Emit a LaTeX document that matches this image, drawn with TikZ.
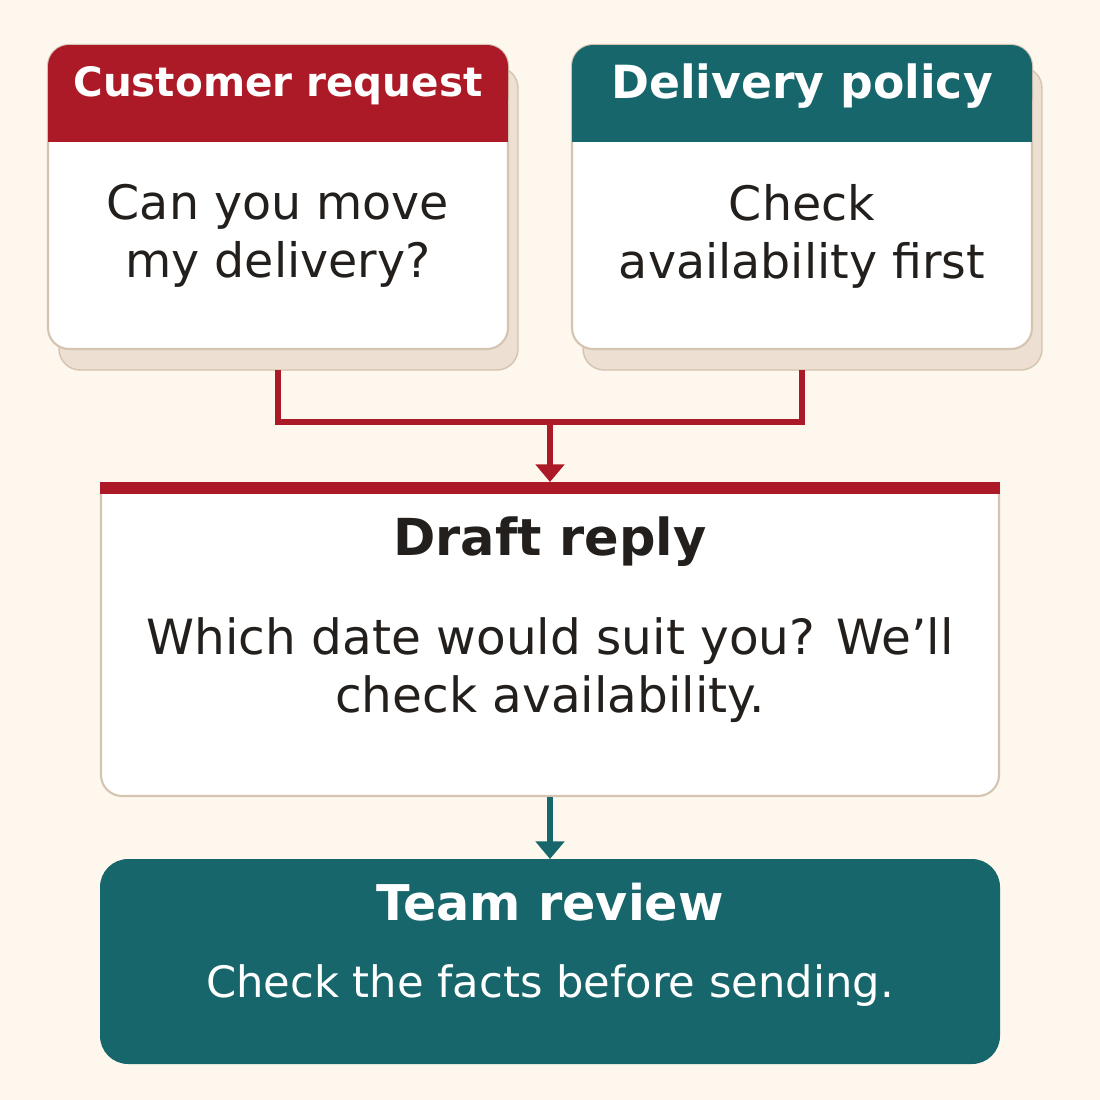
\documentclass[tikz,border=0pt]{standalone}
\usepackage{fontspec}
\setmainfont{DejaVu Sans}
\usetikzlibrary{positioning,arrows.meta}
\definecolor{bgcol}{HTML}{FEF7EE}
\definecolor{redcol}{HTML}{AD1A27}
\definecolor{tealcol}{HTML}{17666B}
\definecolor{shadowcol}{HTML}{EDE0D2}
\definecolor{edgecol}{HTML}{D4C4B0}
\definecolor{inkcol}{HTML}{231F1C}
\tikzset{
  card/.style={draw=edgecol, line width=0.6pt, fill=white, rounded corners=6pt},
  shadow/.style={fill=shadowcol, draw=edgecol, line width=0.4pt, rounded corners=6pt},
  body/.style={align=center, text=inkcol, font=\fontsize{13.5}{16.5}\selectfont},
  link/.style={line width=1.5pt, line cap=butt},
  tip/.style={-{Triangle[length=5pt,width=8pt]}}
}
\begin{document}
\begin{tikzpicture}[x=0.01cm, y=-0.01cm]
  \fill[bgcol] (0,0) rectangle (1100,1100);
  % source cards
  \draw[shadow] (59,67) rectangle (518,370);
  \draw[shadow] (583,67) rectangle (1042,370);
  \draw[card] (48,45) rectangle (508,349);
  \draw[card] (572,45) rectangle (1032,349);
  \fill[redcol, rounded corners=6pt] (48,45) rectangle (508,120);
  \fill[redcol] (48,100) rectangle (508,142);
  \fill[tealcol, rounded corners=6pt] (572,45) rectangle (1032,120);
  \fill[tealcol] (572,100) rectangle (1032,142);
  \node[text=white, font=\fontsize{11.5}{14}\selectfont\bfseries] (reqhead) at (278,86) {Customer request};
  \node[text=white, font=\fontsize{13}{16}\selectfont\bfseries] (polhead) at (802,86) {Delivery policy};
  \node[body] (reqtext) at (278,236) {Can you move\\my delivery?};
  \node[body] (poltext) at (802,236) {Check\\availability first};
  \coordinate (reqout) at (278,370);
  \coordinate (polout) at (802,370);
  \coordinate (merge) at (550,422);
  % draft reply
  \draw[card] (101,482) -- (101,796) -- (999,796) -- (999,482);
  \fill[redcol] (100,482) rectangle (1000,494);
  \coordinate (draftin) at (550,482);
  \coordinate (draftout) at (550,797);
  \node[text=inkcol, font=\fontsize{14.5}{18}\selectfont\bfseries] (drafthead) at (550,542) {Draft reply};
  \node[body, font=\fontsize{13.8}{16.5}\selectfont] (drafttext) at (550,670) {Which date would suit you? We’ll\\check availability.};
  % team review
  \fill[tealcol, rounded corners=8pt] (100,859) rectangle (1000,1064);
  \coordinate (teamin) at (550,859);
  \node[text=white, font=\fontsize{14}{17}\selectfont\bfseries] (teamhead) at (550,902) {Team review};
  \node[text=white, font=\fontsize{12.3}{15}\selectfont] (teamtext) at (550,986) {Check the facts before sending.};
  % connectors
  \draw[link, redcol] (reqout) |- (merge) -| (polout);
  \draw[link, redcol, tip] (merge) -- (draftin);
  \draw[link, tealcol, tip] (draftout) -- (teamin);
\end{tikzpicture}
\end{document}
